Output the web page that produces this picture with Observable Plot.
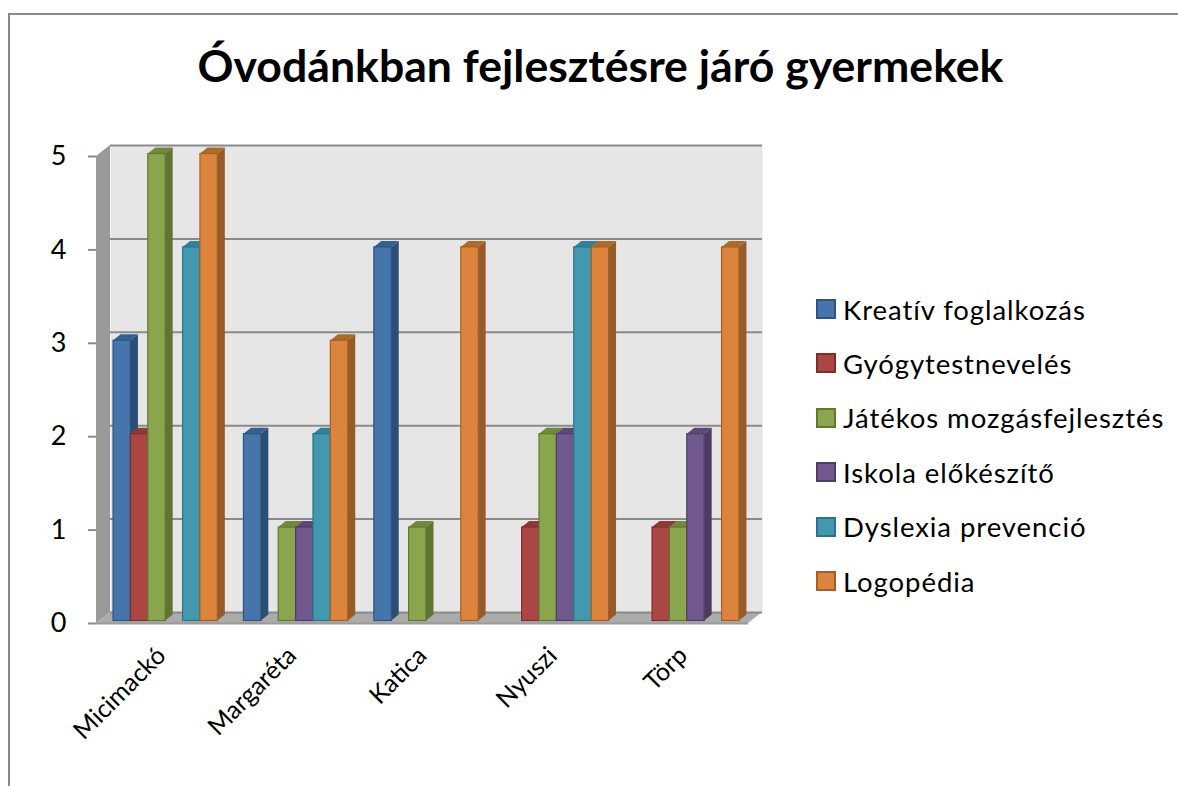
<!DOCTYPE html>
<html lang="hu"><head><meta charset="utf-8">
<script src="https://cdn.jsdelivr.net/npm/d3@7"></script>
<script src="https://cdn.jsdelivr.net/npm/@observablehq/plot@0.6"></script>
<style>
html,body{margin:0;padding:0;background:#fff;width:1178px;height:786px;overflow:hidden;font-family:Lato,sans-serif}
#frame{position:absolute;left:8px;top:13px;width:1170px;height:780px;border-left:2px solid #8a8a8a;border-top:2px solid #8a8a8a;box-sizing:border-box}
#title{position:absolute;left:0;width:1201px;top:36px;margin:0;text-align:center;font:700 44.6px/58px Lato,sans-serif;color:#000}
#chart{position:absolute;left:0;top:0}
#legend{position:absolute;left:816px;top:282px}
.row{position:absolute;left:0;display:flex;align-items:center;height:54px;white-space:nowrap;font-size:27.5px;letter-spacing:0.94px;color:#000}
.sw{width:16px;height:16px;border:2px solid;margin-right:7px;flex:none}
svg text{font-family:Lato,sans-serif}
</style></head><body>
<div id="frame"></div>
<h1 id="title">Óvodánkban fejlesztésre járó gyermekek</h1>
<div id="chart"></div>
<div id="legend"></div>
<script>
const categories = ["Micimackó","Margaréta","Katica","Nyuszi","Törp"];
const seriesNames = ["Kreatív foglalkozás","Gyógytestnevelés","Játékos mozgásfejlesztés","Iskola előkészítő","Dyslexia prevenció","Logopédia"];
const kreativ  = [3,2,4,0,0];
const gyogy    = [2,0,0,1,1];
const jatekos  = [5,1,1,2,1];
const iskola   = [0,1,0,2,2];
const dyslexia = [4,2,0,4,0];
const logopedia= [5,3,4,4,4];
const seriesValues = [kreativ,gyogy,jatekos,iskola,dyslexia,logopedia];
const faceColors = ["#4675ab","#aa4643","#89a54e","#71588f","#4198af","#db843d"];
const edgeColors = ["#2f5380","#7d2f2d","#62772f","#4f3c68","#2b7489","#a55f25"];
const sideColors = ["#2c4d75","#772c2a","#5f7530","#4d3b62","#276a7c","#985a26"];
const topColors  = ["#38608f","#8e3a37","#70893d","#5d4878","#32809a","#ad6a2d"];
const yTicks = [0,1,2,3,4,5];

// Each category occupies one unit of the x scale; the six series share it.
const groupGap = 0.1, slot = 0.1333;
const rows = [];
seriesNames.forEach((s,i)=>categories.forEach((c,j)=>{
  if (seriesValues[i][j]>0) rows.push({
    category:c,series:s,value:seriesValues[i][j],k:i,
    x1:j+groupGap+i*slot, x2:j+groupGap+(i+1)*slot
  });
}));
const catTicks = categories.map((c,j)=>j+0.5);

const wallDepth = [14,-11], barDepth = [7.5,-6], barShift = [4,-2.5];
const ns = "http://www.w3.org/2000/svg";
function poly(parent, pts, fill){
  const p = document.createElementNS(ns,"polygon");
  p.setAttribute("points", pts.map(a=>a.join(",")).join(" "));
  p.setAttribute("fill", fill);
  parent.appendChild(p);
  return p;
}
function shell(index, scales, values, dim){
  const g = document.createElementNS(ns,"g");
  const l = scales.x(0), r = scales.x(categories.length);
  const y0 = scales.y(0), y5 = scales.y(5);
  const [dx,dy] = wallDepth;
  poly(g,[[l,y5],[l+dx,y5+dy],[l+dx,y0+dy],[l,y0]],"#999999");
  poly(g,[[l,y0],[l+dx,y0+dy],[r+dx,y0+dy],[r,y0]],"#ababab");
  return g;
}
function faces(index, scales, values, dim, ctx, next){
  const g = next(index, scales, values, dim, ctx);
  const rects = [...g.querySelectorAll("rect")];
  const [dx,dy] = barDepth;
  rects.forEach((rect,n)=>{
    const d = rows[index[n]];
    const x1 = scales.x(d.x1), x2 = scales.x(d.x2);
    const yt = scales.y(d.value), yb = scales.y(0);
    const parent = rect.parentNode;
    const side = poly(parent,[[x2,yt],[x2+dx,yt+dy],[x2+dx,yb+dy],[x2,yb]],sideColors[d.k]);
    const top = poly(parent,[[x1,yt],[x1+dx,yt+dy],[x2+dx,yt+dy],[x2,yt]],topColors[d.k]);
    parent.insertBefore(side,rect);
    parent.insertBefore(top,rect);
  });
  return g;
}

const chart = Plot.plot({
  width:1178, height:786,
  marginLeft:96, marginRight:430, marginTop:156, marginBottom:163,
  style:{background:"transparent",fontFamily:"Lato,sans-serif"},
  x:{domain:[0,categories.length],label:null},
  y:{domain:[0,5],label:null},
  marks:[
    Plot.frame({fill:"#e6e6e6",stroke:null,dx:wallDepth[0],dy:wallDepth[1]}),
    Plot.frame({render:shell}),
    Plot.ruleY(yTicks,{stroke:"#8a8a8a",strokeWidth:2,dx:wallDepth[0],dy:wallDepth[1]}),
    Plot.ruleY([0],{stroke:"#9a9a9a",strokeWidth:2}),
    Plot.axisY({ticks:yTicks,tickFormat:d=>String(d),tickSize:8,tickPadding:22,fontSize:27,stroke:"#8a8a8a",strokeWidth:2,color:"#000",label:null}),
    Plot.rect(rows,{
      x1:"x1",x2:"x2",y1:0,y2:"value",
      fill:d=>faceColors[d.k],stroke:d=>edgeColors[d.k],strokeWidth:1.2,
      dx:barShift[0],dy:barShift[1],render:faces
    }),
    Plot.axisX({ticks:catTicks,tickFormat:d=>categories[d-0.5],anchor:"bottom",tickRotate:-45,tickSize:0,tickPadding:28,fontSize:25,dx:0,label:null,fill:"#000"})
  ]
});
document.getElementById("chart").appendChild(chart);

const legend = document.getElementById("legend");
seriesNames.forEach((s,i)=>{
  const row = document.createElement("div");
  row.className="row";
  row.style.top=(i*54.4)+"px";
  const sw=document.createElement("span");
  sw.className="sw";
  sw.style.background=faceColors[i];
  sw.style.borderColor=edgeColors[i];
  row.appendChild(sw);
  row.appendChild(document.createTextNode(s));
  legend.appendChild(row);
});
</script>
</body></html>
